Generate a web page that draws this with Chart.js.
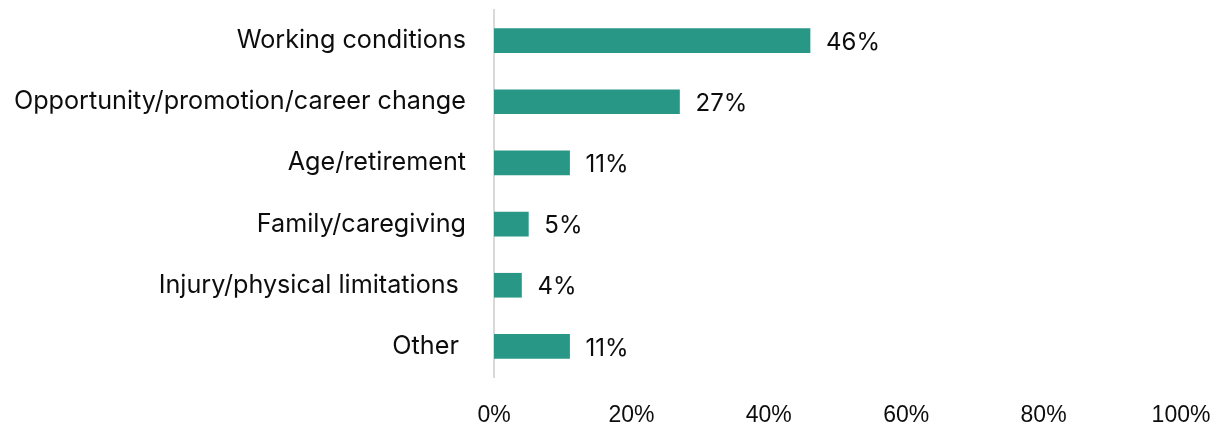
<!DOCTYPE html>
<html>
<head>
<meta charset="utf-8">
<script src="https://cdn.jsdelivr.net/npm/chart.js@4/dist/chart.umd.min.js"></script>
<style>
  html, body { margin: 0; padding: 0; background: #ffffff; }
  #wrap { width: 1220px; height: 427px; position: relative; }
</style>
</head>
<body>
<div id="wrap"><canvas id="chart"></canvas></div>
<script>
// Reasons for leaving, share of respondents (%)
const categories = [
  "Working conditions",
  "Opportunity/promotion/career change",
  "Age/retirement",
  "Family/caregiving",
  "Injury/physical limitations ",
  "Other "
];
const shares = [46, 27, 11, 5, 4, 11];
const axisTicks = [0, 20, 40, 60, 80, 100];

const labelFont = "Inter, 'Noto Sans', sans-serif";
const tickFont = "'Liberation Sans', Arial, sans-serif";

// Writes the percentage just past the end of each bar
const valueLabels = {
  id: 'valueLabels',
  afterDatasetsDraw(chart) {
    const ctx = chart.ctx;
    const meta = chart.getDatasetMeta(0);
    ctx.save();
    ctx.font = "24px " + labelFont;
    ctx.fillStyle = "#0d0d0d";
    ctx.textAlign = "left";
    ctx.textBaseline = "middle";
    meta.data.forEach((bar, i) => {
      ctx.fillText(shares[i] + "%", bar.x + 16, bar.y + 2);
    });
    ctx.restore();
  }
};

new Chart(document.getElementById('chart'), {
  type: 'bar',
  data: {
    labels: categories,
    datasets: [{
      data: shares,
      backgroundColor: '#299786',
      borderWidth: 0,
      barThickness: 24
    }]
  },
  options: {
    indexAxis: 'y',
    responsive: true,
    maintainAspectRatio: false,
    animation: false,
    layout: { padding: { top: 10, left: 0, right: 39, bottom: 0 } },
    plugins: {
      legend: { display: false },
      tooltip: { enabled: false }
    },
    scales: {
      x: {
        min: 0,
        max: 100,
        afterBuildTicks(scale) {
          scale.ticks = axisTicks.map(v => ({ value: v }));
        },
        afterFit(scale) {
          scale.height = 50;
          scale.paddingLeft = 0;
          scale.paddingRight = 0;
        },
        grid: { display: false, drawTicks: false },
        border: { display: false },
        ticks: {
          padding: 25,
          color: '#0d0d0d',
          font: { family: tickFont, size: 23 },
          maxRotation: 0,
          callback: v => v + '%'
        }
      },
      y: {
        afterFit(scale) {
          scale.width = 494;
          scale.paddingTop = 0;
          scale.paddingBottom = 0;
        },
        grid: { display: false, drawTicks: false },
        border: { display: true, color: '#d9d9d9', width: 2 },
        ticks: {
          padding: 28,
          color: '#0d0d0d',
          font: { family: labelFont, size: 25.2 }
        }
      }
    }
  },
  plugins: [valueLabels]
});
</script>
</body>
</html>
